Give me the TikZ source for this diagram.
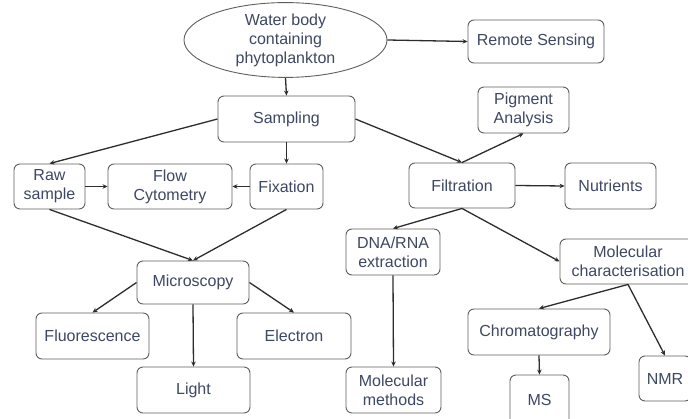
\documentclass[tikz,border=0pt]{standalone}
\usepackage{fontspec}
\setmainfont{Liberation Sans}
\usetikzlibrary{shapes.geometric,arrows.meta}
\definecolor{txt}{RGB}{62,72,98}
\definecolor{edge}{RGB}{95,95,95}
\definecolor{arr}{RGB}{45,45,45}
\tikzset{
  box/.style={draw=edge, line width=0.9pt, rounded corners=6pt, fill=white, text=txt,
    align=center, inner sep=0pt, font=\fontsize{16}{19}\selectfont},
  oval/.style={draw=edge, line width=0.9pt, ellipse, fill=white, text=txt,
    align=center, inner sep=0pt, font=\fontsize{16}{19}\selectfont},
  link/.style={draw=arr, line width=1.3pt, -{Stealth[length=5pt,width=4.5pt]}}
}
\begin{document}
\begin{tikzpicture}[x=1pt,y=-1pt]
\clip (0,0) rectangle (688,419);
\fill[white] (0,0) rectangle (688,419);
% nodes
\node[oval, minimum width=203pt, minimum height=63pt] (water) at (285.5,40) {Water body\\containing\\phytoplankton};
\node[box, minimum width=136pt, minimum height=43pt] (remote) at (536,41.5) {Remote Sensing};
\node[box, minimum width=137pt, minimum height=46pt] (sampling) at (286.5,119) {Sampling};
\node[box, minimum width=91pt, minimum height=46pt] (pigment) at (523.5,110) {Pigment\\Analysis};
\node[box, minimum width=106pt, minimum height=45pt] (filtration) at (462,185.5) {Filtration};
\node[box, minimum width=91pt, minimum height=46pt] (nutrients) at (610.5,186) {Nutrients};
\node[box, minimum width=71pt, minimum height=45pt] (raw) at (49.5,186.5) {Raw\\sample};
\node[box, minimum width=124pt, minimum height=45pt] (flow) at (170,186.5) {Flow\\Cytometry};
\node[box, minimum width=73pt, minimum height=45pt] (fixation) at (286.5,186.5) {Fixation};
\node[box, minimum width=94pt, minimum height=46pt] (dna) at (393,252) {DNA/RNA\\extraction};
\node[box, minimum width=136pt, minimum height=45pt] (molchar) at (628,261.5) {Molecular\\characterisation};
\node[box, minimum width=112pt, minimum height=43pt] (micro) at (193,282.5) {Microscopy};
\node[box, minimum width=113pt, minimum height=46pt] (fluor) at (92.5,336) {Fluorescence};
\node[box, minimum width=114pt, minimum height=46pt] (electron) at (294,336) {Electron};
\node[box, minimum width=113pt, minimum height=46pt] (light) at (193.5,390) {Light};
\node[box, minimum width=95pt, minimum height=46pt] (molmeth) at (393.5,390) {Molecular\\methods};
\node[box, minimum width=142pt, minimum height=46pt] (chroma) at (539,332) {Chromatography};
\node[box, minimum width=59pt, minimum height=50pt] (ms) at (539.5,400) {MS};
\node[box, minimum width=52pt, minimum height=45pt] (nmr) at (665,378.5) {NMR};
% connectors
\draw[link] (water.east) -- (remote.west);
\draw[link] (water.south) -- (sampling.north);
\draw[link] (sampling.west) -- (raw.north);
\draw[link] (sampling.south) -- (fixation.north);
\draw[link] (sampling.east) -- (filtration.north);
\draw[link] (filtration.north) -- (pigment.south);
\draw[link] (raw.east) -- (flow.west);
\draw[link] (fixation.west) -- (flow.east);
\draw[link] (raw.south) -- (micro.north);
\draw[link] (fixation.south) -- (micro.north);
\draw[link] (filtration.east) -- (nutrients.west);
\draw[link] (filtration.south) -- (dna.north);
\draw[link] (filtration.south) -- (molchar.west);
\draw[link] (dna.south) -- (molmeth.north);
\draw[link] (micro.west) -- (fluor.north);
\draw[link] (micro.south) -- (light.north);
\draw[link] (micro.east) -- (electron.north);
\draw[link] (molchar.south) -- (chroma.north);
\draw[link] (molchar.south) -- (nmr.north);
\draw[link] (chroma.south) -- (ms.north);
\end{tikzpicture}
\end{document}
